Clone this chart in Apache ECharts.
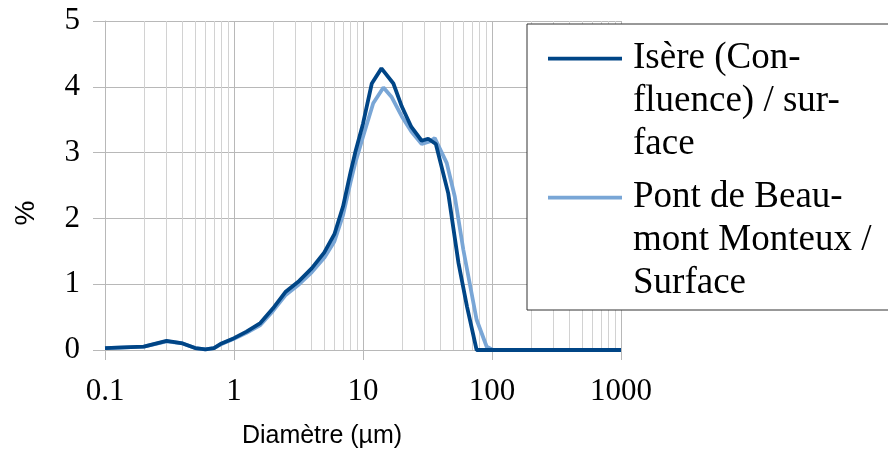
<!DOCTYPE html>
<html>
<head>
<meta charset="utf-8">
<script src="https://cdn.jsdelivr.net/npm/echarts@6/dist/echarts.min.js"></script>
<style>
  html, body { margin: 0; padding: 0; background: #fff; }
  #chart { width: 888px; height: 457px; }
</style>
</head>
<body>
<div id="chart"></div>
<script>
// diamètres (µm) et pourcentages
var isereX = [0.1, 0.2, 0.3, 0.4, 0.5, 0.6, 0.7, 0.8, 1.0, 1.25, 1.6, 2.0, 2.5, 3.2, 4.0, 5.0, 6.0, 7.0, 8.0, 8.7, 10, 11.7, 13.9, 17.2, 20, 23.7, 28.5, 32, 36.7, 45.8, 55, 64, 76, 100, 1000];
var isereY = [0.03, 0.05, 0.14, 0.10, 0.03, 0.01, 0.03, 0.10, 0.18, 0.28, 0.41, 0.63, 0.88, 1.05, 1.24, 1.48, 1.76, 2.18, 2.70, 3.0, 3.44, 4.05, 4.28, 4.05, 3.70, 3.39, 3.18, 3.21, 3.13, 2.38, 1.32, 0.66, 0, 0, 0];

var beaumontX = [0.1, 0.2, 0.3, 0.4, 0.5, 0.6, 0.7, 0.8, 1.0, 1.25, 1.6, 2.0, 2.5, 3.2, 4.0, 5.0, 6.0, 7.0, 8.0, 8.7, 10, 12, 14.4, 16.6, 20, 23.7, 28.5, 33, 36, 44.6, 51.5, 60, 76, 91, 102, 1000];
var beaumontY = [0.03, 0.05, 0.13, 0.10, 0.03, 0.01, 0.03, 0.09, 0.17, 0.26, 0.38, 0.59, 0.83, 1.0, 1.18, 1.40, 1.65, 2.05, 2.55, 2.84, 3.24, 3.75, 3.99, 3.85, 3.55, 3.32, 3.13, 3.17, 3.22, 2.84, 2.33, 1.52, 0.46, 0.05, 0, 0];

var seriesNames = ['Isère (Confluence) / surface', 'Pont de Beaumont Monteux / Surface'];
var legendLabels = ['Isère (Con-\nfluence) / sur-\nface', 'Pont de Beau-\nmont Monteux /\nSurface'];
var xTickLabels = ['0.1', '1', '10', '100', '1000'];
var yTicks = [0, 1, 2, 3, 4, 5];

// lignes secondaires du quadrillage : 2..9 dans chaque décade
var minorLines = [];
[0.1, 1, 10, 100].forEach(function (d) {
    for (var k = 2; k <= 9; k++) minorLines.push({ xAxis: +(d * k).toPrecision(3) });
});

function pairs(xs, ys) {
    return xs.map(function (x, i) { return [x, ys[i]]; });
}

var serif = 'Liberation Serif';
var sans = 'Liberation Sans';

var option = {
    animation: false,
    backgroundColor: '#ffffff',
    grid: { left: 105, right: 267, top: 21, bottom: 107 },
    legend: {
        left: 527, top: 24,
        z: 10,
        orient: 'vertical',
        padding: [13, 40, 5, 21],
        itemGap: 10,
        backgroundColor: '#ffffff',
        borderColor: '#333333', borderWidth: 1,
        itemWidth: 74, itemHeight: 129,
        icon: 'path://M0,0M0,19.8L74,19.8L74,23.6L0,23.6ZM74,129',
        itemStyle: { borderWidth: 0 },
        selectedMode: false,
        textStyle: { fontFamily: serif, fontSize: 37, lineHeight: 43, color: '#000', padding: [0, 0, 0, 6] },
        formatter: function (name) { return legendLabels[seriesNames.indexOf(name)]; },
        data: seriesNames
    },
    xAxis: {
        type: 'log', logBase: 10, min: 0.1, max: 1000,
        name: 'Diamètre (µm)', nameLocation: 'middle', nameGap: 74,
        nameTextStyle: { fontFamily: sans, fontSize: 25, color: '#000', padding: [0, 82, 0, 0] },
        axisLine: { show: true, lineStyle: { color: '#b8b8b8', width: 1 } },
        axisTick: { show: true, length: 10, lineStyle: { color: '#b8b8b8' } },
        axisLabel: {
            fontFamily: serif, fontSize: 31, color: '#000', margin: 26,
            formatter: function (v) {
                var i = Math.round(Math.log10(v)) + 1;
                return xTickLabels[i];
            }
        },
        splitLine: { show: true, lineStyle: { color: '#b8b8b8', width: 1 } }
    },
    yAxis: {
        type: 'value', min: yTicks[0], max: yTicks[yTicks.length - 1], interval: 1,
        name: '%', nameLocation: 'middle', nameGap: 65,
        nameTextStyle: { fontFamily: sans, fontSize: 28, color: '#000', padding: [0, 55, 0, 0] },
        axisLine: { show: true, lineStyle: { color: '#b8b8b8', width: 1 } },
        axisTick: { show: true, length: 12, lineStyle: { color: '#b8b8b8' } },
        axisLabel: { fontFamily: serif, fontSize: 31, color: '#000', margin: 25 },
        splitLine: { show: true, lineStyle: { color: '#b8b8b8', width: 1 } }
    },
    series: [
        {
            name: '__grid', type: 'line', data: [], z: 0, silent: true,
            markLine: {
                silent: true, symbol: 'none', z: 0, animation: false,
                label: { show: false },
                lineStyle: { color: '#d2d2d2', width: 1, type: 'solid' },
                emphasis: { disabled: true },
                data: minorLines
            }
        },
        {
            name: seriesNames[1], type: 'line', data: pairs(beaumontX, beaumontY),
            showSymbol: false, symbol: 'none', z: 3,
            color: '#79a6d6',
            lineStyle: { color: '#79a6d6', width: 3.8 }
        },
        {
            name: seriesNames[0], type: 'line', data: pairs(isereX, isereY),
            showSymbol: false, symbol: 'none', z: 4,
            color: '#004586',
            lineStyle: { color: '#004586', width: 3.8 }
        }
    ]
};

var chart = echarts.init(document.getElementById('chart'), null, { renderer: 'canvas' });
chart.setOption(option);
</script>
</body>
</html>
